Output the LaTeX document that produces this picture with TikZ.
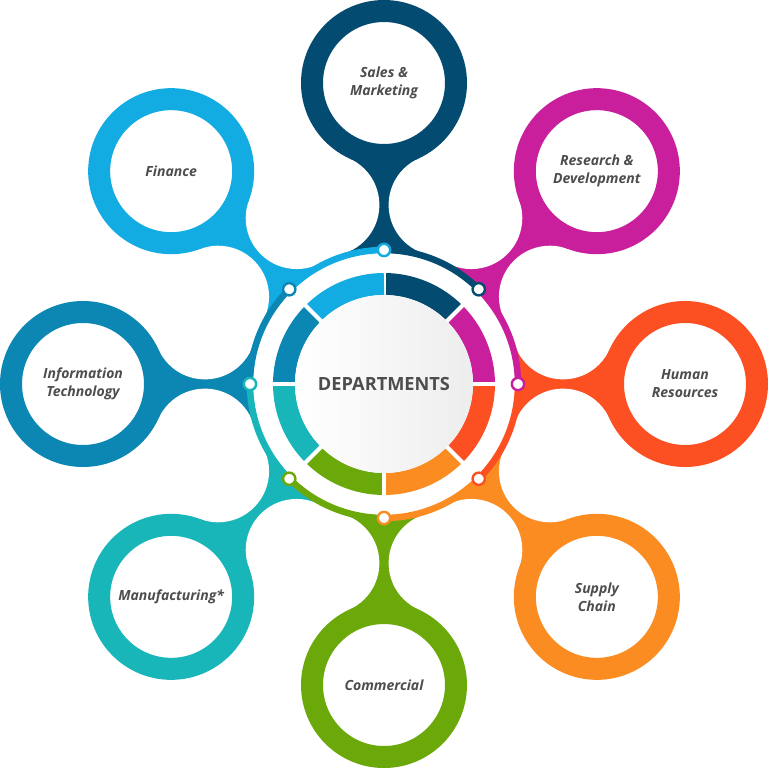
\documentclass[tikz,border=0pt]{standalone}
\usepackage{fontspec}
\newfontfamily\opensans{Open Sans}
\usepackage{tikz}
\usetikzlibrary{backgrounds}
\usepackage{xcolor}

\definecolor{sales}{HTML}{034B70}
\definecolor{research}{HTML}{C91F9D}
\definecolor{human}{HTML}{FC4F22}
\definecolor{supply}{HTML}{FB8C22}
\definecolor{commercial}{HTML}{6BA90B}
\definecolor{manufacturing}{HTML}{18B6B9}
\definecolor{information}{HTML}{0C87B3}
\definecolor{finance}{HTML}{12ACE3}
\definecolor{labeltext}{HTML}{4D4D4D}

\begin{document}
\begin{tikzpicture}[x=1pt,y=1pt]
				\useasboundingbox (-384,-385) rectangle (386,384);
				
				% outer ring and inner band
				\foreach \a/\c in {90/sales,45/research,0/human,-45/supply,-90/commercial,-135/manufacturing,180/information,135/finance}{
					\draw[\c,line width=6.5pt] (\a:134) arc[start angle=\a,end angle=\a-45,radius=134];
					\draw[\c,line width=22pt] (\a:100) arc[start angle=\a,end angle=\a-45,radius=100];
					\draw[white,line width=4pt] (\a:87) -- (\a:113);
				}
				
				\begin{scope}[every node/.style={circle,draw=black,line width=2.4pt,fill=white,minimum size=12.3pt,inner sep=0pt}]
					\node[draw=sales] (Dsales) at (45:134) {};
					\node[draw=research] (Dresearch) at (0:134) {};
					\node[draw=human] (Dhuman) at (-45:134) {};
					\node[draw=supply] (Dsupply) at (-90:134) {};
					\node[draw=commercial] (Dcommercial) at (-135:134) {};
					\node[draw=manufacturing] (Dmanufacturing) at (180:134) {};
					\node[draw=information] (Dinformation) at (135:134) {};
					\node[draw=finance] (Dfinance) at (90:134) {};
				\end{scope}
				
				\node (C) [circle,minimum size=178pt,inner sep=0pt,left color=white,right color=black!7,text=labeltext,
					font=\opensans\bfseries\fontsize{18.2}{21}\selectfont] at (0,0) {DEPARTMENTS};
				
				\begin{scope}[every node/.style={circle,line width=22pt,fill=white,minimum size=144pt,inner sep=0pt,
						align=center,text=labeltext,font=\opensans\bfseries\itshape\fontsize{14}{18}\selectfont}]
					\node[draw=sales] (sales) at (90:301) {Sales \&\\Marketing};
					\node[draw=research] (research) at (45:301) {Research \&\\Development};
					\node[draw=human] (human) at (0:301) {Human\\Resources};
					\node[draw=supply] (supply) at (-45:301) {Supply\\Chain};
					\node[draw=commercial] (commercial) at (-90:301) {Commercial};
					\node[draw=manufacturing] (manufacturing) at (-135:301) {Manufacturing*};
					\node[draw=information] (information) at (180:301) {Information\\Technology};
					\node[draw=finance] (finance) at (135:301) {Finance};
				\end{scope}
				
				% stems behind the rings
				\begin{scope}[on background layer]
					\foreach \a/\c in {90/sales,45/research,0/human,-45/supply,-90/commercial,-135/manufacturing,180/information,135/finance}
						\fill[\c,rotate=\a] (-17.25:133) arc[start angle=-17.25,end angle=17.25,radius=133]
							-- (179.07,55.6) -- (\c.center) -- (179.07,-55.6) -- cycle;
					\foreach \a in {90,45,0,-45,-90,-135,180,135}
						\fill[white,rotate=\a] (179.07,55.6) circle[radius=51] (179.07,-55.6) circle[radius=51];
				\end{scope}
			\end{tikzpicture}
\end{document}
